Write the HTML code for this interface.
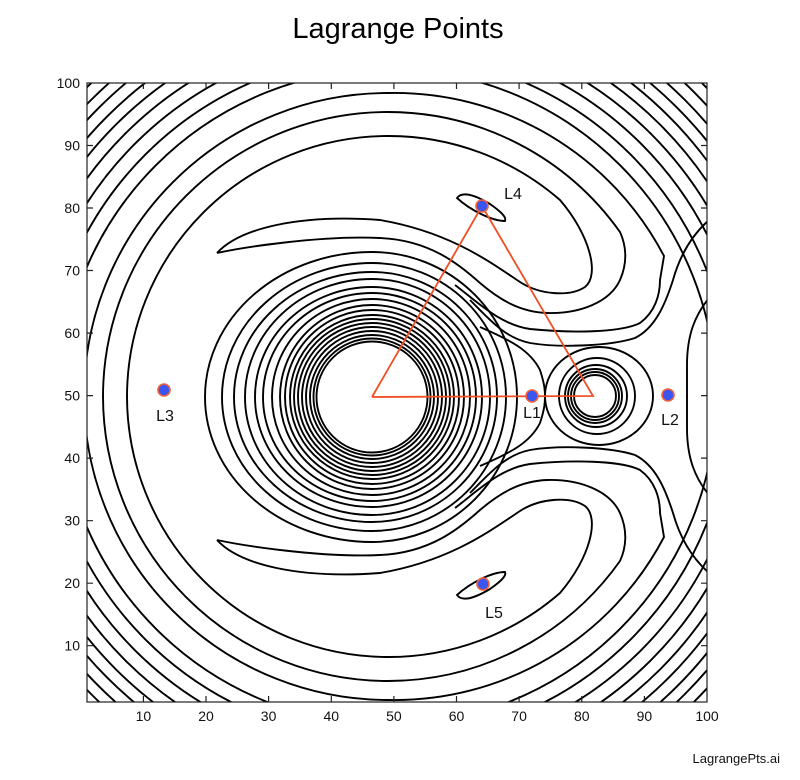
<!DOCTYPE html>
<html><head><meta charset="utf-8"><style>
html,body{margin:0;padding:0;background:#fff;width:800px;height:780px;overflow:hidden;}
svg{display:block;font-family:"Liberation Sans",sans-serif;}
</style></head><body>
<svg width="800" height="780" viewBox="0 0 800 780" xmlns="http://www.w3.org/2000/svg">
<defs>
<clipPath id="cp"><rect x="87" y="83" width="620" height="619"/></clipPath>
<g id="half" fill="none" stroke="#000" stroke-width="1.9">
<path d="M127,397 A261,261 0 0 1 388,136 A261,261 0 0 1 560,200 C590,235 600,275 585,287 C570,297 540,295 520,282 C490,262 450,232 380,220 C300,214 240,228 217,253"/>
<path d="M217,253 C240,248 320,235 380,238 C430,240 460,265 480,283 C500,300 520,312 547,313 C580,314 610,302 620,280 C628,262 626,245 620,232 A285,285 0 0 0 388,112 A285,285 0 0 0 103,397"/>
<path d="M455,285 C475,300 500,325 530,329 C570,333 620,333 640,323 C655,312 660,295 660,280 C662,268 663,262 664,256 A304,304 0 0 0 388,93 A304,304 0 0 0 84,397"/>
<path d="M470,300 C490,320 505,338 530,343 C560,348 610,346 635,338 C655,328 665,305 673,280 C680,255 692,235 709,220"/>
<path d="M687,397 L687,365 C687,335 695,315 709,298"/>
<path d="M480,327 C510,340 530,350 540,370 C545,385 545,392 545,397"/>
<path d="M457,198 C462,191 475,195 490,204 C500,211 507,217 505,221 C492,221 470,210 457,198 Z"/>
</g>
</defs>
<text x="398" y="38" font-size="29" text-anchor="middle" fill="#000">Lagrange Points</text>
<g clip-path="url(#cp)" fill="none" stroke="#000" stroke-width="1.9">
<use href="#half"/>
<use href="#half" transform="matrix(1 0 0 -1 0 793)"/>
<g>
<circle cx="388" cy="397" r="328"/><circle cx="388" cy="397" r="343"/><circle cx="388" cy="397" r="358"/><circle cx="388" cy="397" r="372"/><circle cx="388" cy="397" r="385"/><circle cx="388" cy="397" r="397"/><circle cx="388" cy="397" r="409"/><circle cx="388" cy="397" r="420"/><circle cx="388" cy="397" r="432"/><circle cx="388" cy="397" r="444"/>
</g>
<path d="M205,397 A167,145 0 0 1 372,252 A145,145 0 0 1 517,397 A145,145 0 0 1 372,542 A167,145 0 0 1 205,397Z
M222,397 A150,134 0 0 1 372,263 A134,134 0 0 1 506,397 A134,134 0 0 1 372,531 A150,134 0 0 1 222,397Z
M234,397 A138,125 0 0 1 372,272 A125,125 0 0 1 497,397 A125,125 0 0 1 372,522 A138,125 0 0 1 234,397Z
M245,397 A127,118 0 0 1 372,279 A118,118 0 0 1 490,397 A118,118 0 0 1 372,515 A127,118 0 0 1 245,397Z
M255,397 A117,110 0 0 1 372,287 A110,110 0 0 1 482,397 A110,110 0 0 1 372,507 A117,110 0 0 1 255,397Z
M263,397 A109,104 0 0 1 372,293 A104,104 0 0 1 476,397 A104,104 0 0 1 372,501 A109,104 0 0 1 263,397Z
M272,397 A100,98 0 0 1 372,299 A98,98 0 0 1 470,397 A98,98 0 0 1 372,495 A100,98 0 0 1 272,397Z"/>
<g>
<circle cx="372" cy="397" r="92"/><circle cx="372" cy="397" r="87"/><circle cx="372" cy="397" r="82"/><circle cx="372" cy="397" r="78"/><circle cx="372" cy="397" r="74"/><circle cx="372" cy="397" r="70"/><circle cx="372" cy="397" r="66"/><circle cx="372" cy="397" r="62"/><circle cx="372" cy="397" r="58.5"/><circle cx="372" cy="397" r="55.5"/>
<circle cx="595" cy="396" r="21"/><circle cx="595" cy="396" r="24"/><circle cx="595" cy="396" r="27"/><circle cx="596" cy="396" r="31"/><circle cx="597" cy="396" r="38"/>
<ellipse cx="599" cy="396" rx="54" ry="49"/>
</g>
</g>
<rect x="87" y="83" width="620" height="619" fill="none" stroke="#222" stroke-width="1.2"/>
<g stroke="#222" stroke-width="1.2">
<path d="M143.4,702v-6M206,702v-6M268.6,702v-6M331.3,702v-6M393.9,702v-6M456.5,702v-6M519.1,702v-6M581.8,702v-6M644.4,702v-6
M143.4,83v6M206,83v6M268.6,83v6M331.3,83v6M393.9,83v6M456.5,83v6M519.1,83v6M581.8,83v6M644.4,83v6
M87,645.7h6M87,583.2h6M87,520.7h6M87,458.1h6M87,395.6h6M87,333.1h6M87,270.5h6M87,208h6M87,145.5h6
M707,645.7h-6M707,583.2h-6M707,520.7h-6M707,458.1h-6M707,395.6h-6M707,333.1h-6M707,270.5h-6M707,208h-6M707,145.5h-6"/>
</g>
<g font-size="14" fill="#111" text-anchor="middle">
<text x="143.4" y="721">10</text><text x="206" y="721">20</text><text x="268.6" y="721">30</text><text x="331.3" y="721">40</text><text x="393.9" y="721">50</text><text x="456.5" y="721">60</text><text x="519.1" y="721">70</text><text x="581.8" y="721">80</text><text x="644.4" y="721">90</text><text x="707" y="721">100</text>
</g>
<g font-size="14" fill="#111" text-anchor="end">
<text x="80" y="650.7">10</text><text x="80" y="588.2">20</text><text x="80" y="525.7">30</text><text x="80" y="463.1">40</text><text x="80" y="400.6">50</text><text x="80" y="338.1">60</text><text x="80" y="275.5">70</text><text x="80" y="213">80</text><text x="80" y="150.5">90</text><text x="80" y="88">100</text>
</g>
<polyline points="372,397 482,206 593,396 372,397" fill="none" stroke="#f04e23" stroke-width="1.8"/>
<g fill="#3b55f0" stroke="#f0603a" stroke-width="1.6">
<circle cx="482" cy="206" r="6"/><circle cx="483" cy="584" r="6"/><circle cx="532" cy="396" r="6"/><circle cx="668" cy="395" r="6"/><circle cx="164" cy="390" r="6"/>
</g>
<g font-size="16" fill="#111" text-anchor="middle">
<text x="513" y="199">L4</text><text x="494" y="618">L5</text><text x="532" y="418">L1</text><text x="670" y="425">L2</text><text x="165" y="421">L3</text>
</g>
<text x="780" y="763" font-size="13" text-anchor="end" fill="#111">LagrangePts.ai</text>
</svg>
</body></html>
